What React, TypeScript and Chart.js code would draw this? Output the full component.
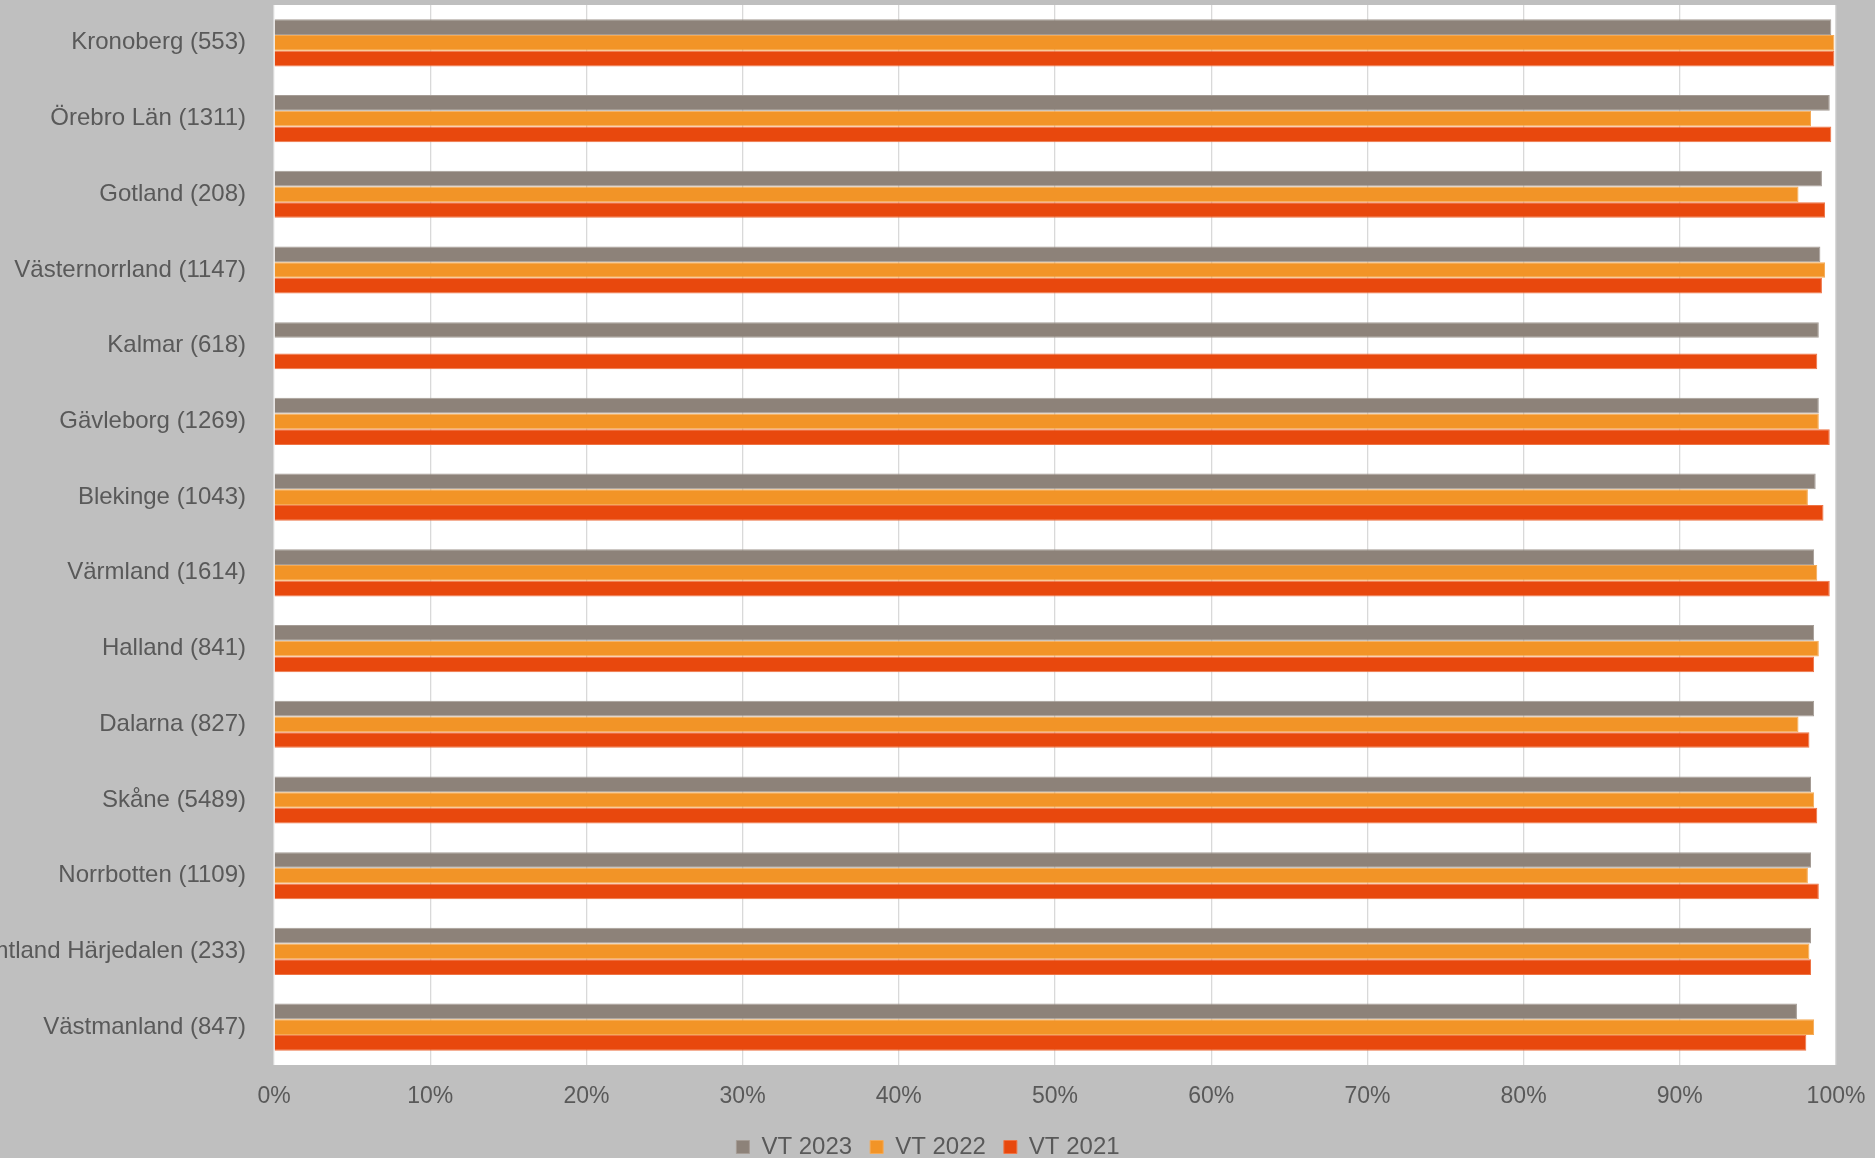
import { useEffect, useRef } from "react";
import { Chart, registerables } from "chart.js";

Chart.register(...registerables);

const categories = [
  "Kronoberg (553)",
  "Örebro Län (1311)",
  "Gotland (208)",
  "Västernorrland (1147)",
  "Kalmar (618)",
  "Gävleborg (1269)",
  "Blekinge (1043)",
  "Värmland (1614)",
  "Halland (841)",
  "Dalarna (827)",
  "Skåne (5489)",
  "Norrbotten (1109)",
  "Jämtland Härjedalen (233)",
  "Västmanland (847)",
];

const seriesNames = ["VT 2023", "VT 2022", "VT 2021"];

const vt2023 = [99.7, 99.6, 99.1, 99.0, 98.9, 98.9, 98.7, 98.6, 98.6, 98.6, 98.4, 98.4, 98.4, 97.5];
const vt2022 = [99.9, 98.4, 97.6, 99.3, null, 98.9, 98.2, 98.8, 98.9, 97.6, 98.6, 98.2, 98.3, 98.6];
const vt2021 = [99.9, 99.7, 99.3, 99.1, 98.8, 99.6, 99.2, 99.6, 98.6, 98.3, 98.8, 98.9, 98.4, 98.1];

const xMin = 0;
const xMax = 100;
const xStep = 10;

const COLORS = ["#8D8279", "#F29427", "#E8480D"];
const BORDERS = ["#A59C95", "#F5AA55", "#EE7446"];
const TEXT = "#595959";
const FONT = "'Liberation Sans', Arial, sans-serif";

const plotBg = {
  id: "plotBg",
  beforeDraw(chart: any) {
    const { ctx, chartArea } = chart;
    ctx.save();
    ctx.fillStyle = "#ffffff";
    ctx.fillRect(chartArea.left, chartArea.top, chartArea.right - chartArea.left, chartArea.bottom - chartArea.top);
    ctx.restore();
  },
};

const legendShift = {
  id: "legendShift",
  afterLayout(chart: any) {
    const lg = chart.legend;
    if (lg) {
      lg.left += 10;
      lg.right += 10;
    }
  },
};

export default function App() {
  const ref = useRef<HTMLCanvasElement | null>(null);

  useEffect(() => {
    if (!ref.current) return;
    const data = [vt2023, vt2022, vt2021];
    const chart = new Chart(ref.current, {
      type: "bar",
      data: {
        labels: categories,
        datasets: seriesNames.map((name, i) => ({
          label: name,
          data: data[i] as any,
          backgroundColor: COLORS[i],
          borderColor: BORDERS[i],
          borderWidth: 1,
          categoryPercentage: 0.623,
          barPercentage: 1,
        })),
      },
      options: {
        indexAxis: "y",
        animation: false,
        responsive: false,
        devicePixelRatio: 1,
        layout: { padding: { top: 5, right: 39, left: 0, bottom: 0 } },
        scales: {
          x: {
            min: xMin,
            max: xMax,
            border: { display: false },
            grid: { color: "#D9D9D9", lineWidth: 1.3, drawTicks: false },
            ticks: {
              stepSize: xStep,
              padding: 18,
              color: TEXT,
              font: { family: FONT, size: 23 },
              callback: (v: any) => v + "%",
            },
            afterFit: (scale: any) => {
              scale.height = 52;
              scale.paddingLeft = 0;
              scale.paddingRight = 0;
            },
          },
          y: {
            border: { display: false },
            grid: { display: false, drawTicks: false },
            ticks: {
              autoSkip: false,
              padding: 28,
              color: TEXT,
              font: { family: FONT, size: 24 },
            },
            afterFit: (scale: any) => {
              scale.width = 274;
              scale.paddingTop = 0;
              scale.paddingBottom = 0;
            },
          },
        },
        plugins: {
          legend: {
            position: "bottom",
            labels: {
              boxWidth: 13,
              boxHeight: 13,
              padding: 18,
              color: TEXT,
              font: { family: FONT, size: 24 },
            },
          },
          tooltip: { enabled: false },
        },
      },
      plugins: [plotBg, legendShift],
    });
    return () => chart.destroy();
  }, []);

  return (
    <div
      style={{
        position: "fixed",
        left: 0,
        top: 0,
        width: 1875,
        height: 1158,
        overflow: "hidden",
        background: "#BFBFBF",
      }}
    >
      <canvas ref={ref} width={1875} height={1169} style={{ display: "block", width: 1875, height: 1169 }} />
    </div>
  );
}
